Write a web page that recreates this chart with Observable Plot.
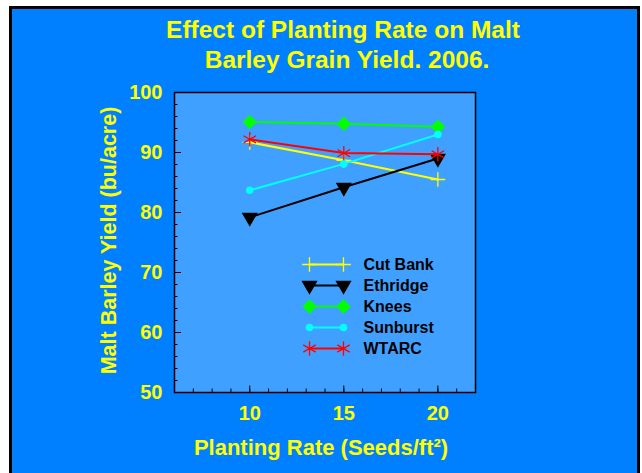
<!DOCTYPE html>
<html>
<head>
<meta charset="utf-8">
<script src="https://cdn.jsdelivr.net/npm/d3@7"></script>
<script src="https://cdn.jsdelivr.net/npm/@observablehq/plot@0.6"></script>
<style>
  html, body { margin: 0; padding: 0; background: #ffffff; overflow: hidden; }
  #wrap { position: relative; width: 642px; height: 473px; overflow: hidden; }
  #bg { position: absolute; left: 9px; top: 6px; width: 625px; height: 480px; background: #0080ff; border: 3px solid #000; }
  #chart, #legend { position: absolute; left: 0; top: 0; }
  #legend { left: 290px; top: 250px; }
  svg { overflow: visible; }
</style>
</head>
<body>
<div id="wrap"><div id="bg"></div><div id="chart"></div><div id="legend"></div></div>
<script>
// ---- data ----
const titleLines = ["Effect of Planting Rate on Malt", "Barley Grain Yield. 2006."];
const xLabel = "Planting Rate (Seeds/ft\u00B2)";
const yLabel = "Malt Barley Yield (bu/acre)";
const rates = [10, 15, 20];
const seriesNames = ["Cut Bank", "Ethridge", "Knees", "Sunburst", "WTARC"];
const cutBank  = [91.7, 88.7, 85.5];
const ethridge = [79.2, 84.2, 89.0];
const knees    = [95.1, 94.8, 94.3];
const sunburst = [83.7, 88.1, 93.0];
const wtarc    = [92.2, 89.9, 89.7];
const xTickLabels = [10, 15, 20];
const yTickLabels = [50, 60, 70, 80, 90, 100];
const xMinorTicks = [7, 8, 9, 10, 11, 12, 13, 14, 15, 16, 17, 18, 19, 20, 21];
const yMinorTicks = [52, 54, 56, 58, 60, 62, 64, 66, 68, 70, 72, 74, 76, 78, 80, 82, 84, 86, 88, 90, 92, 94, 96, 98];

// ---- styles ----
const seriesValues = [cutBank, ethridge, knees, sunburst, wtarc];
const styles = {
  "Cut Bank": {color: "#ffff00", symbol: "plus", r: 4.8, filled: false, rotate: 0},
  "Ethridge": {color: "#000000", symbol: "triangle", r: 6.0, filled: true, rotate: 180},
  "Knees":    {color: "#00ff00", symbol: "diamond2", r: 6.5, filled: true, rotate: 0},
  "Sunburst": {color: "#00ffff", symbol: "circle", r: 3.8, filled: true, rotate: 0},
  "WTARC":    {color: "#ff0000", symbol: "asterisk", r: 6.8, filled: false, rotate: 0}
};

const rows = [];
seriesNames.forEach((name, i) => {
  rates.forEach((rate, j) => rows.push({series: name, rate, yield: seriesValues[i][j]}));
});

const W = 642, H = 473, mL = 174, mR = 167, mT = 92, mB = 81;
const frameW = W - mL - mR, frameH = H - mT - mB;
const font = "'Liberation Sans', Arial, Helvetica, sans-serif";

function dotOpts(s, extra) {
  return Object.assign({
    symbol: s.symbol, r: s.r, rotate: s.rotate,
    fill: s.filled ? s.color : "none",
    stroke: s.color,
    strokeWidth: s.filled ? 0 : 1.3
  }, extra);
}

const marks = [
  Plot.frame({fill: "#40a0ff", stroke: null}),
  // inward tick marks
  Plot.tickY(yMinorTicks, {y: d => d, insetRight: frameW - 3.5, stroke: "#000", strokeWidth: 1}),
  Plot.tickY(yTickLabels, {y: d => d, insetRight: frameW - 7, stroke: "#000", strokeWidth: 1}),
  Plot.tickX(xMinorTicks, {x: d => d, insetTop: frameH - 3.5, stroke: "#000", strokeWidth: 1}),
  Plot.tickX(xTickLabels, {x: d => d, insetTop: frameH - 6.5, stroke: "#000", strokeWidth: 1}),
  Plot.frame({stroke: "#000", strokeWidth: 1.5}),
  // tick labels
  Plot.text(yTickLabels, {y: d => d, frameAnchor: "left", textAnchor: "end", dx: -12, fill: "#ffff00", fontSize: 20, fontWeight: "bold"}),
  Plot.text(xTickLabels, {x: d => d, frameAnchor: "bottom", lineAnchor: "bottom", dy: 27, fill: "#ffff00", fontSize: 20, fontWeight: "bold"}),
  // axis titles
  Plot.text([yLabel], {frameAnchor: "left", textAnchor: "middle", rotate: -90, dx: -65, dy: -2, fill: "#ffff00", fontSize: 21.5, fontWeight: "bold"}),
  Plot.text([xLabel], {frameAnchor: "bottom", lineAnchor: "bottom", dy: 62, dx: -4, fill: "#ffff00", fontSize: 22, fontWeight: "bold"}),
  // title
  Plot.text([titleLines[0]], {frameAnchor: "top", lineAnchor: "bottom", dy: -55, dx: 18, fill: "#ffff00", fontSize: 24.5, fontWeight: "bold"}),
  Plot.text([titleLines[1]], {frameAnchor: "top", lineAnchor: "bottom", dy: -25, dx: 22, fill: "#ffff00", fontSize: 24.5, fontWeight: "bold"})
];

seriesNames.forEach(name => {
  const s = styles[name];
  const data = rows.filter(d => d.series === name);
  marks.push(Plot.line(data, {x: "rate", y: "yield", stroke: s.color, strokeWidth: 2}));
  marks.push(Plot.dot(data, dotOpts(s, {x: "rate", y: "yield"})));
});

const chart = Plot.plot({
  width: W, height: H,
  marginLeft: mL, marginRight: mR, marginTop: mT, marginBottom: mB,
  x: {domain: [6, 22], axis: null},
  y: {domain: [50, 100], axis: null},
  style: {background: "transparent", fontFamily: font, overflow: "visible"},
  marks
});
document.getElementById("chart").appendChild(chart);

// ---- legend ----
const legendRows = seriesNames.map(name => ({series: name}));
const legendMarks = [];
seriesNames.forEach(name => {
  const s = styles[name];
  const d = legendRows.filter(r => r.series === name);
  legendMarks.push(Plot.link(d, {x1: 0, x2: 1, y1: "series", y2: "series", stroke: s.color, strokeWidth: 2}));
  legendMarks.push(Plot.dot(d, dotOpts(s, {x: 0, y: "series"})));
  legendMarks.push(Plot.dot(d, dotOpts(s, {x: 1, y: "series"})));
});
legendMarks.push(Plot.text(legendRows, {x: 1, y: "series", text: "series", dx: 20, textAnchor: "start", fill: "#000", fontSize: 16, fontWeight: "bold"}));

const legend = Plot.plot({
  width: 200, height: 112,
  margin: 0,
  x: {domain: [0, 1], range: [19, 53], axis: null},
  y: {domain: seriesNames, type: "point", padding: 0, range: [14, 98], axis: null},
  style: {background: "transparent", fontFamily: font, overflow: "visible"},
  marks: legendMarks
});
document.getElementById("legend").appendChild(legend);
</script>
</body>
</html>
